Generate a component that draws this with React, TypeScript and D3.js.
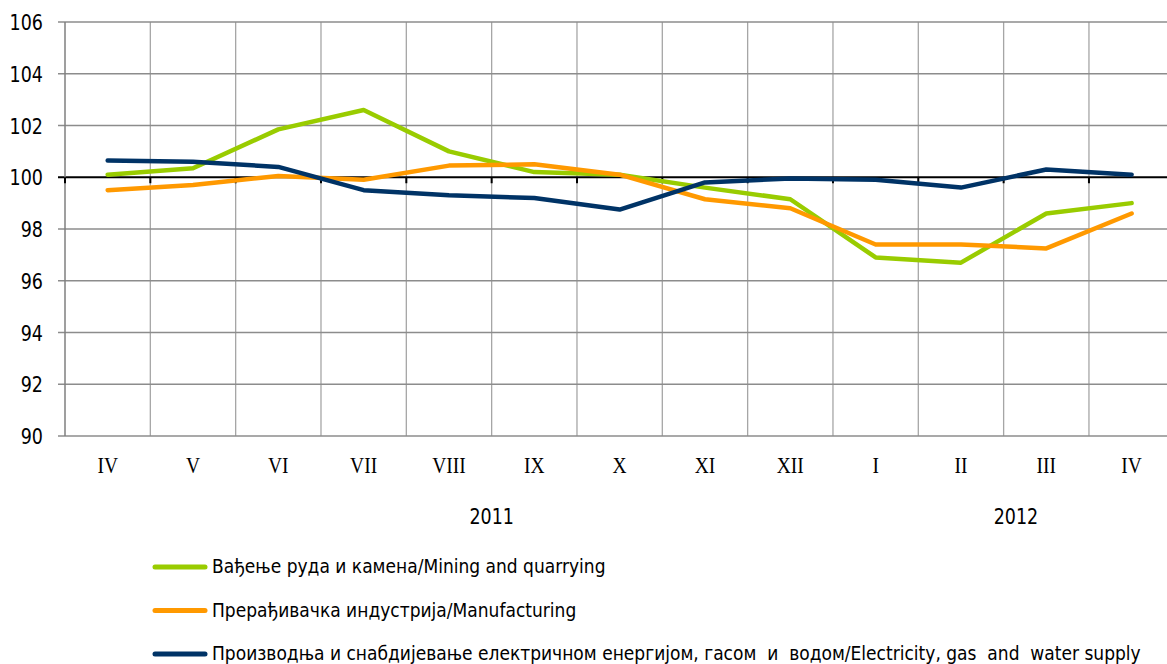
import React from 'react';
import * as d3 from 'd3';

const months = ['IV', 'V', 'VI', 'VII', 'VIII', 'IX', 'X', 'XI', 'XII', 'I', 'II', 'III', 'IV'];
const years = ['2011', '2012'];
const mining = [100.1, 100.35, 101.85, 102.6, 101.0, 100.2, 100.1, 99.6, 99.15, 96.9, 96.7, 98.6, 99.0];
const manufacturing = [99.5, 99.7, 100.05, 99.9, 100.45, 100.5, 100.1, 99.15, 98.8, 97.4, 97.4, 97.25, 98.6];
const electricity = [100.65, 100.6, 100.4, 99.5, 99.3, 99.2, 98.75, 99.8, 99.95, 99.9, 99.6, 100.3, 100.1];
const yTicks = [90, 92, 94, 96, 98, 100, 102, 104, 106];

const series = [
  { name: 'Вађење руда и камена/Mining and quarrying', values: mining, color: '#99cc00' },
  { name: 'Прерађивачка индустрија/Manufacturing', values: manufacturing, color: '#ff9900' },
  { name: 'Производња и снабдијевање електричном енергијом, гасом  и  водом/Electricity, gas  and  water supply', values: electricity, color: '#003366' },
];

const W = 1167;
const H = 664;
const left = 65;
const top = 22;
const bottom = 436;
const bandW = 85.33;
const stretch = 1.22; // reference text is a bit taller than wide

const sans = '"DejaVu Sans", Verdana, sans-serif';
const serif = '"Liberation Serif", "Times New Roman", serif';

function Label(props: { x: number; y: number; size: number; family: string; anchor?: string; sy?: number; children: React.ReactNode }) {
  return (
    <text transform={`translate(${props.x},${props.y}) scale(1,${props.sy ?? stretch})`} dy="0.36em"
      textAnchor={props.anchor ?? 'start'} fontFamily={props.family} fontSize={props.size} fill="#000"
      style={{ whiteSpace: 'pre' }}>{props.children}</text>
  );
}

export default function App() {
  const x = d3.scaleBand<number>()
    .domain(months.map((_, i) => i))
    .range([left, left + bandW * months.length]);
  const y = d3.scaleLinear().domain([90, 106]).range([bottom, top]);
  const cx = (i: number) => (x(i) as number) + x.bandwidth() / 2;

  const line = d3.line<number>()
    .x((_, i) => cx(i))
    .y(d => y(d));

  // year labels: 2011 spans the first ten category slots, 2012 sits under II–IV
  const yearX = [(x(0)! + x(10)!) / 2, cx(10) + 55];

  return (
    <svg width={W} height={H} style={{ position: 'absolute', left: 0, top: 0 }}>
      <rect width={W} height={H} fill="#fff" />
      {/* vertical grid */}
      {months.map((_, i) => (
        <line key={'vg' + i} x1={x(i)! + bandW} x2={x(i)! + bandW} y1={top} y2={bottom}
          stroke="#a6a6a6" strokeWidth={1.3} />
      ))}
      {/* horizontal grid + y labels */}
      {yTicks.map(t => (
        <g key={'hg' + t}>
          <line x1={left - 7} x2={W} y1={y(t)} y2={y(t)} stroke={t === 100 ? '#000' : '#8c8c8c'}
            strokeWidth={t === 100 ? 2 : 1.5} />
          <Label x={left - 22} y={y(t) + 0.5} size={17.5} family={sans} anchor="end">{t}</Label>
        </g>
      ))}
      {/* y axis */}
      <line x1={left} x2={left} y1={top} y2={bottom} stroke="#7f7f7f" strokeWidth={1.5} />
      {/* category ticks on the 100 line */}
      {months.map((_, i) => (
        <line key={'tk' + i} x1={x(i)!} x2={x(i)!} y1={y(100)} y2={y(100) + 6} stroke="#000" strokeWidth={2} />
      ))}
      {/* month labels */}
      {months.map((m, i) => (
        <Label key={'m' + i} x={cx(i)} y={464} size={19.5} family={serif} anchor="middle">{m}</Label>
      ))}
      {years.map((yr, i) => (
        <Label key={yr} x={yearX[i]} y={516} size={17.5} family={sans} anchor="middle">{yr}</Label>
      ))}
      {/* series */}
      {series.map(s => (
        <path key={s.name} d={line(s.values) ?? ''} fill="none" stroke={s.color} strokeWidth={4.5}
          strokeLinejoin="round" strokeLinecap="round" />
      ))}
      {/* legend */}
      {series.map((s, i) => (
        <g key={'lg' + i} transform={`translate(155,${567 + i * 43.5})`}>
          <line x1={0} x2={50} y1={0} y2={0} stroke={s.color} strokeWidth={5} strokeLinecap="round" />
          <Label x={57} y={-1} size={17.1} family={sans} sy={1.15}>{s.name}</Label>
        </g>
      ))}
    </svg>
  );
}
